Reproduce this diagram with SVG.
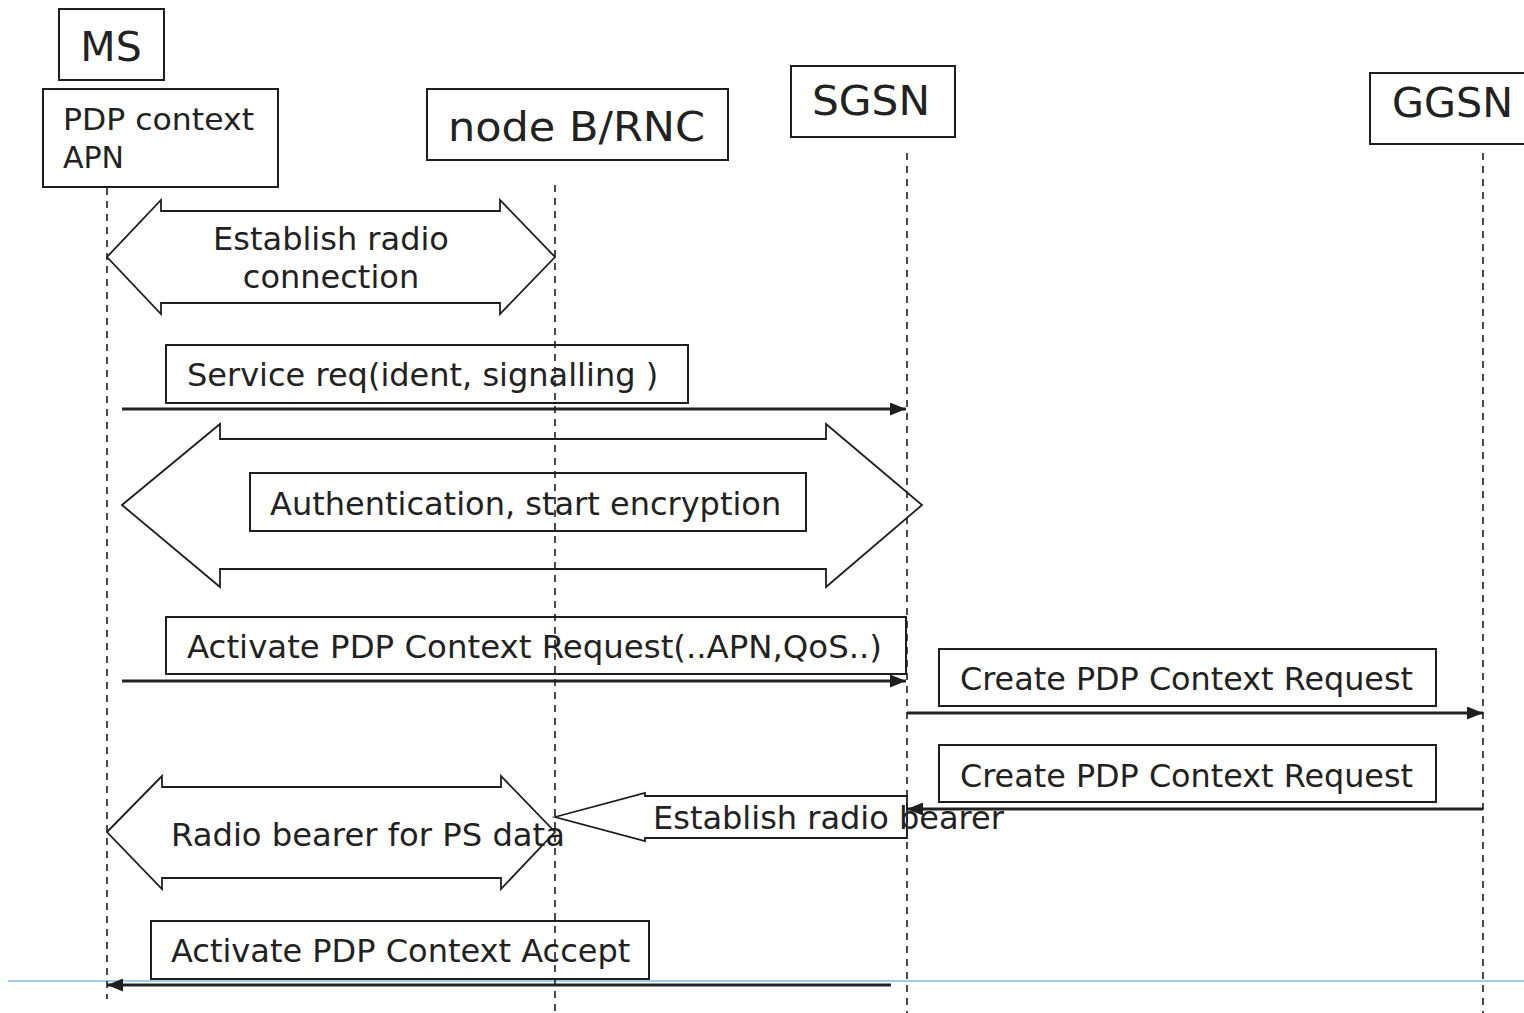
<svg xmlns="http://www.w3.org/2000/svg" width="1524" height="1013" viewBox="0 0 1524 1013">
<style>
  text { font-family: "DejaVu Sans", Verdana, sans-serif; fill: #222; }
  .t32 { font-size: 32px; }
  .t30 { font-size: 30px; }
  .t41 { font-size: 41px; }
  .box { fill: none; stroke: #1e1e1e; stroke-width: 2; }
  .blk { fill: none; stroke: #1e1e1e; stroke-width: 1.8; stroke-linejoin: miter; }
  .life { fill: none; stroke: #1e1e1e; stroke-width: 1.6; stroke-dasharray: 7 6; }
  .msg { fill: none; stroke: #222; stroke-width: 3; }
</style>
<defs>
  <marker id="ah" viewBox="0 0 16 13" refX="16" refY="6.5" markerWidth="16" markerHeight="13" markerUnits="userSpaceOnUse" orient="auto">
    <path d="M0,0 L16,6.5 L0,13 Z" fill="#1e1e1e"/>
  </marker>
</defs>
<rect width="1524" height="1013" fill="#ffffff"/>

<g id="node-MS">
  <rect class="box" x="59" y="9" width="105" height="71"/>
  <text class="t41" x="111" y="61" text-anchor="middle" style="font-size:41px">MS</text>
</g>
<g id="node-PDP">
  <rect class="box" x="43" y="89" width="235" height="98"/>
  <text class="t30" x="63" y="130" textLength="191" lengthAdjust="spacingAndGlyphs">PDP context</text>
  <text class="t30" x="63" y="168">APN</text>
</g>
<g id="node-nodeB">
  <rect class="box" x="427" y="89" width="301" height="71"/>
  <text class="t41" x="448" y="141" textLength="257" lengthAdjust="spacingAndGlyphs">node B/RNC</text>
</g>
<g id="node-SGSN">
  <rect class="box" x="791" y="66" width="164" height="71"/>
  <text class="t41" x="812" y="115" textLength="118" lengthAdjust="spacingAndGlyphs">SGSN</text>
</g>
<g id="node-GGSN">
  <rect class="box" x="1370" y="73" width="170" height="71"/>
  <text class="t41" x="1392" y="117" textLength="121" lengthAdjust="spacingAndGlyphs">GGSN</text>
</g>

<line x1="8" y1="981" x2="1524" y2="981" stroke="#7dbbe9" stroke-width="1.5"/>

<g id="connectors">
  <g id="msg-radio-connection">
    <polygon class="blk" points="107,257 161,200 161,211 500,211 500,200 555,257 500,314 500,303 161,303 161,314"/>
    <text class="t32" x="331" y="250" text-anchor="middle">Establish radio</text>
    <text class="t32" x="331" y="288" text-anchor="middle">connection</text>
  </g>
  <g id="msg-service-req">
    <rect class="box" x="166" y="345" width="522" height="58"/>
    <text class="t32" x="187" y="386">Service req(ident, signalling )</text>
    <line class="msg" x1="122" y1="409" x2="906" y2="409" marker-end="url(#ah)"/>
  </g>
  <g id="msg-auth">
    <polygon class="blk" points="122,505 220,424 220,439 826,439 826,424 922,505 826,587 826,569 220,569 220,587"/>
    <rect class="box" x="250" y="473" width="556" height="58"/>
    <text class="t32" x="270" y="515">Authentication, start encryption</text>
  </g>
  <g id="msg-activate-req">
    <rect class="box" x="166" y="617" width="740" height="57"/>
    <text class="t32" x="187" y="658" textLength="695" lengthAdjust="spacingAndGlyphs">Activate PDP Context Request(..APN,QoS..)</text>
    <line class="msg" x1="122" y1="681" x2="906" y2="681" marker-end="url(#ah)"/>
  </g>
  <g id="msg-create-req-1">
    <rect class="box" x="939" y="649" width="497" height="57"/>
    <text class="t32" x="960" y="690" textLength="453" lengthAdjust="spacingAndGlyphs">Create PDP Context Request</text>
    <line class="msg" x1="907" y1="713" x2="1483" y2="713" marker-end="url(#ah)"/>
  </g>
  <g id="msg-create-req-2">
    <rect class="box" x="939" y="745" width="497" height="57"/>
    <text class="t32" x="960" y="787" textLength="453" lengthAdjust="spacingAndGlyphs">Create PDP Context Request</text>
    <line class="msg" x1="1483" y1="809" x2="907" y2="809" marker-end="url(#ah)"/>
  </g>
  <g id="msg-radio-bearer">
    <polygon class="blk" points="107,832 162,776 162,787 501,787 501,776 555,832 501,889 501,878 162,878 162,889"/>
    <text class="t32" x="171" y="846" textLength="394" lengthAdjust="spacingAndGlyphs">Radio bearer for PS data</text>
  </g>
  <g id="msg-establish-bearer">
    <polygon class="blk" points="555,817 645,793 645,796 907,796 907,838 645,838 645,841"/>
    <text class="t32" x="653" y="829">Establish radio bearer</text>
  </g>
  <g id="msg-activate-accept">
    <rect class="box" x="151" y="921" width="498" height="58"/>
    <text class="t32" x="171" y="962">Activate PDP Context Accept</text>
    <line class="msg" x1="891" y1="985" x2="107" y2="985" marker-end="url(#ah)"/>
  </g>
</g>

<g id="lifelines">
  <line class="life" x1="107" y1="188" x2="107" y2="999"/>
  <line class="life" x1="555" y1="185" x2="555" y2="1013"/>
  <line class="life" x1="907" y1="153" x2="907" y2="1013"/>
  <line class="life" x1="1483" y1="153" x2="1483" y2="1013"/>
</g>
</svg>
